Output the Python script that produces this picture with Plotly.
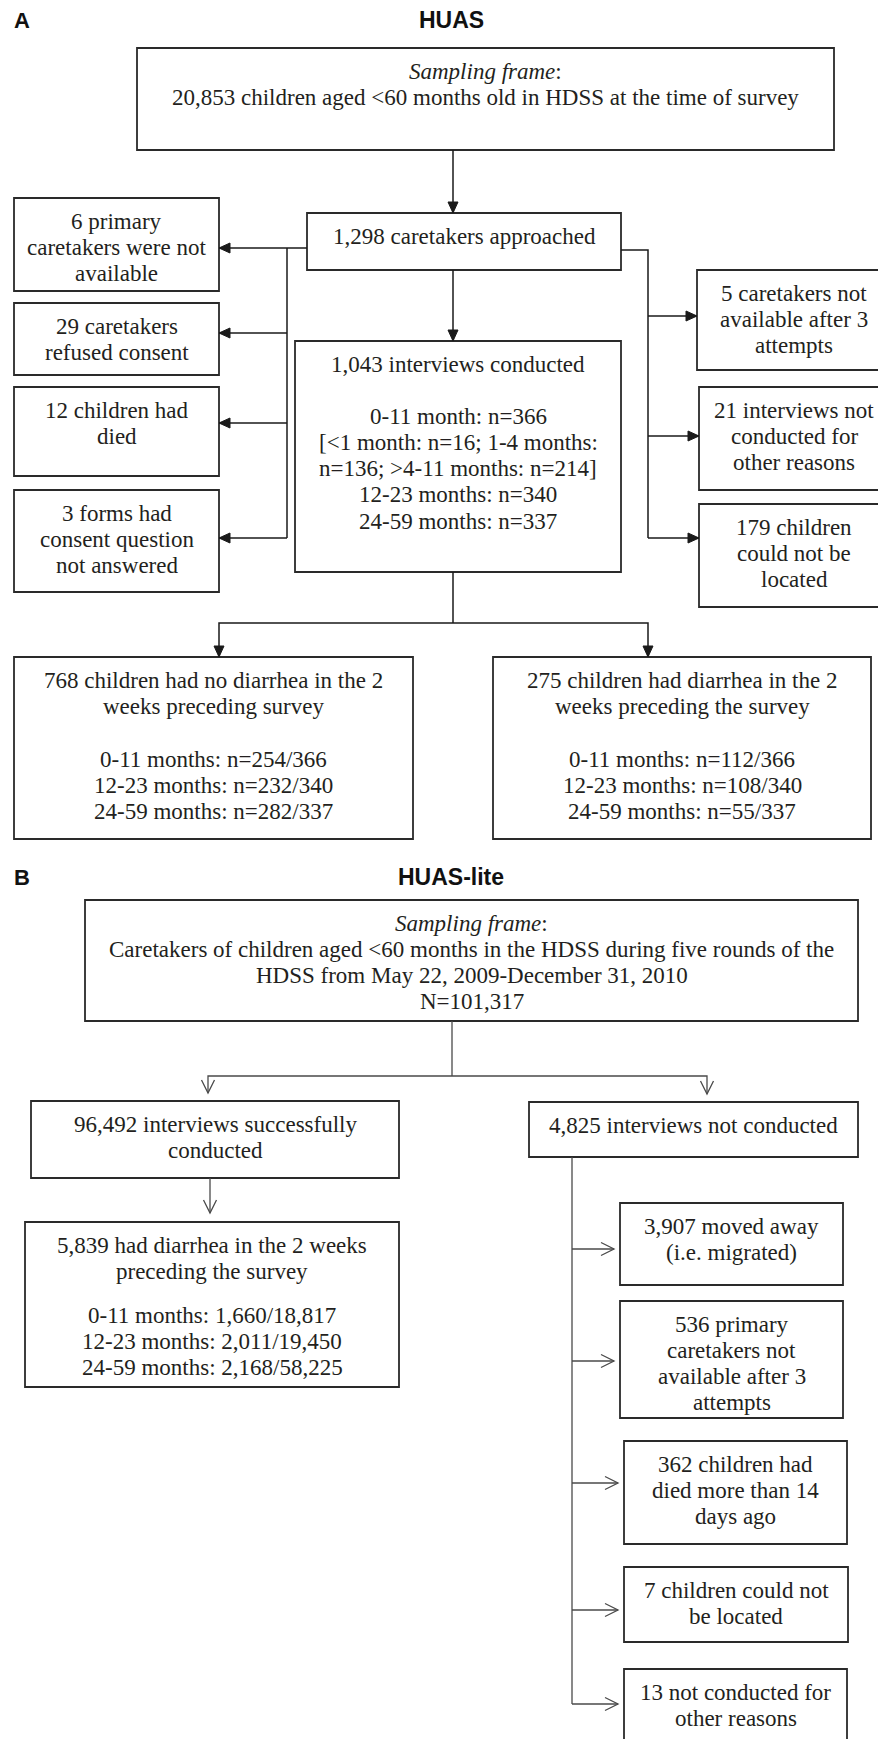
import plotly.graph_objects as go

W, H = 878, 1739

# ------------------------------------------------------------------ data
panel_labels = ["A", "B"]
panel_titles = ["HUAS", "HUAS-lite"]

huas_frame_n = 20853
huas_approached = 1298
huas_conducted = 1043
huas_left_n = [6, 29, 12, 3]
huas_right_n = [5, 21, 179]
huas_age_groups = ["0-11 months", "12-23 months", "24-59 months"]
huas_interview_n = [366, 340, 337]
huas_infant_sub = [16, 136, 214]          # <1, 1-4, >4-11 months
huas_no_diarrhea_n = [254, 232, 282]
huas_diarrhea_n = [112, 108, 55]

lite_frame_n = 101317
lite_conducted = 96492
lite_not_conducted = 4825
lite_diarrhea_total = 5839
lite_age_groups = ["0-11 months", "12-23 months", "24-59 months"]
lite_diarrhea_n = [1660, 2011, 2168]
lite_total_n = [18817, 19450, 58225]
lite_reason_n = [3907, 536, 362, 7, 13]

# ------------------------------------------------------------------ texts
T = {}
T["a_frame"] = [["<i>Sampling frame</i>:",
                 f"{huas_frame_n:,} children aged &lt;60 months old in HDSS at the time of survey"]]
T["a_appr"] = [[f"{huas_approached:,} caretakers approached"]]
T["a_cond"] = [[f"{huas_conducted:,} interviews conducted"],
               [f"0-11 month: n={huas_interview_n[0]}",
                f"[&lt;1 month: n={huas_infant_sub[0]}; 1-4 months:",
                f"n={huas_infant_sub[1]}; &gt;4-11 months: n={huas_infant_sub[2]}]",
                f"{huas_age_groups[1]}: n={huas_interview_n[1]}",
                f"{huas_age_groups[2]}: n={huas_interview_n[2]}"]]
T["a_l1"] = [[f"{huas_left_n[0]} primary", "caretakers were not", "available"]]
T["a_l2"] = [[f"{huas_left_n[1]} caretakers", "refused consent"]]
T["a_l3"] = [[f"{huas_left_n[2]} children had", "died"]]
T["a_l4"] = [[f"{huas_left_n[3]} forms had", "consent question", "not answered"]]
T["a_r1"] = [[f"{huas_right_n[0]} caretakers not", "available after 3", "attempts"]]
T["a_r2"] = [[f"{huas_right_n[1]} interviews not", "conducted for", "other reasons"]]
T["a_r3"] = [[f"{huas_right_n[2]} children", "could not be", "located"]]
T["a_nod"] = [[f"{sum(huas_no_diarrhea_n)} children had no diarrhea in the 2",
               "weeks preceding survey"],
              [f"{g}: n={a}/{b}" for g, a, b in zip(huas_age_groups, huas_no_diarrhea_n, huas_interview_n)]]
T["a_dia"] = [[f"{sum(huas_diarrhea_n)} children had diarrhea in the 2",
               "weeks preceding the survey"],
              [f"{g}: n={a}/{b}" for g, a, b in zip(huas_age_groups, huas_diarrhea_n, huas_interview_n)]]
T["b_frame"] = [["<i>Sampling frame</i>:",
                 "Caretakers of children aged &lt;60 months in the HDSS during five rounds of the",
                 "HDSS from May 22, 2009-December 31, 2010",
                 f"N={lite_frame_n:,}"]]
T["b_succ"] = [[f"{lite_conducted:,} interviews successfully", "conducted"]]
T["b_notc"] = [[f"{lite_not_conducted:,} interviews not conducted"]]
T["b_dia"] = [[f"{lite_diarrhea_total:,} had diarrhea in the 2 weeks", "preceding the survey"],
              [f"{g}: {a:,}/{b:,}" for g, a, b in zip(lite_age_groups, lite_diarrhea_n, lite_total_n)]]
T["b_r1"] = [[f"{lite_reason_n[0]:,} moved away", "(i.e. migrated)"]]
T["b_r2"] = [[f"{lite_reason_n[1]} primary", "caretakers not", "available after 3", "attempts"]]
T["b_r3"] = [[f"{lite_reason_n[2]} children had", "died more than 14", "days ago"]]
T["b_r4"] = [[f"{lite_reason_n[3]} children could not", "be located"]]
T["b_r5"] = [[f"{lite_reason_n[4]} not conducted for", "other reasons"]]

# ------------------------------------------------------------------ layout (pixel positions)
BOX = {
    "a_frame": (137, 48, 834, 150),
    "a_appr": (307, 213, 621, 270),
    "a_cond": (295, 341, 621, 572),
    "a_l1": (14, 198, 219, 291),
    "a_l2": (14, 303, 219, 375),
    "a_l3": (14, 387, 219, 476),
    "a_l4": (14, 490, 219, 592),
    "a_r1": (697, 270, 892, 370),
    "a_r2": (699, 387, 892, 490),
    "a_r3": (699, 504, 892, 607),
    "a_nod": (14, 657, 413, 839),
    "a_dia": (493, 657, 871, 839),
    "b_frame": (85, 900, 858, 1021),
    "b_succ": (31, 1101, 399, 1178),
    "b_notc": (529, 1102, 858, 1157),
    "b_dia": (25, 1222, 399, 1387),
    "b_r1": (620, 1203, 843, 1285),
    "b_r2": (620, 1301, 843, 1418),
    "b_r3": (624, 1441, 847, 1544),
    "b_r4": (624, 1567, 848, 1642),
    "b_r5": (624, 1669, 847, 1760),
}
GROUP_OFFSET = {"a_cond": [0, 52], "a_nod": [0, 79], "a_dia": [0, 79], "b_dia": [0, 70]}
TEXT_CX = {"a_r1": 794, "a_r2": 794, "a_r3": 794}
FIRST_LINE = 23  # distance from box top to first text line centre
LINE_H = 26.3
FS = 23

SERIF = "Liberation Serif, Times New Roman, serif"
SANS = "Liberation Sans, Arial, sans-serif"
TXT = "#231f20"

shapes = []
annotations = []

for key, (x0, y0, x1, y1) in BOX.items():
    shapes.append(dict(type="rect", xref="x", yref="y", x0=x0, y0=y0, x1=x1, y1=y1,
                       line=dict(color="#2a2a2a", width=1.8), fillcolor="rgba(0,0,0,0)"))
    cx = TEXT_CX.get(key, (x0 + x1) / 2)
    offs = GROUP_OFFSET.get(key, [0])
    for grp, off in zip(T[key], offs):
        for i, line in enumerate(grp):
            yy = y0 + FIRST_LINE + off + i * LINE_H
            annotations.append(dict(x=cx, y=yy, xref="x", yref="y", text=line,
                                    showarrow=False, xanchor="center", yanchor="middle",
                                    align="center", font=dict(family=SERIF, size=FS, color=TXT)))

# panel labels & titles
for lab, ttl, yy in zip(panel_labels, panel_titles, [20, 877]):
    annotations.append(dict(x=22, y=yy, xref="x", yref="y", text=f"<b>{lab}</b>", showarrow=False,
                            xanchor="center", yanchor="middle", font=dict(family=SANS, size=22, color="#111")))
    annotations.append(dict(x=451, y=yy, xref="x", yref="y", text=f"<b>{ttl}</b>", showarrow=False,
                            xanchor="center", yanchor="middle", font=dict(family=SANS, size=23, color="#111")))


def seg(pts, color, width):
    path = "M " + " L ".join(f"{x},{y}" for x, y in pts)
    shapes.append(dict(type="path", xref="x", yref="y", path=path,
                       line=dict(color=color, width=width), fillcolor="rgba(0,0,0,0)"))


def head_filled(x, y, dx, dy, color, L=11, hw=5):
    # tip at (x,y), direction (dx,dy) unit
    bx, by = x - dx * L, y - dy * L
    px, py = -dy, dx
    path = f"M {x},{y} L {bx + px * hw},{by + py * hw} L {bx - px * hw},{by - py * hw} Z"
    shapes.append(dict(type="path", xref="x", yref="y", path=path,
                       line=dict(color=color, width=1), fillcolor=color))


def head_open(x, y, dx, dy, color, width, L=13, hw=6.5):
    bx, by = x - dx * L, y - dy * L
    px, py = -dy, dx
    seg([(bx + px * hw, by + py * hw), (x, y), (bx - px * hw, by - py * hw)], color, width)


CA = "#1a1a1a"
WA = 1.5
CB = "#4a4a4a"
WB = 1.3

# ---------------- panel A connectors
fr, ap, co = BOX["a_frame"], BOX["a_appr"], BOX["a_cond"]
cxA = 453
seg([(cxA, fr[3]), (cxA, ap[1])], CA, WA); head_filled(cxA, ap[1], 0, 1, CA)
seg([(cxA, ap[3]), (cxA, co[1])], CA, WA); head_filled(cxA, co[1], 0, 1, CA)

yL = 248
xL = 287
seg([(ap[0], yL), (BOX["a_l1"][2], yL)], CA, WA); head_filled(BOX["a_l1"][2], yL, -1, 0, CA)
left_arrow_y = [333, 423, 538]
seg([(xL, yL), (xL, left_arrow_y[-1])], CA, WA)
for k, yy in zip(["a_l2", "a_l3", "a_l4"], left_arrow_y):
    seg([(xL, yy), (BOX[k][2], yy)], CA, WA); head_filled(BOX[k][2], yy, -1, 0, CA)

yR = 250
xR = 648
right_arrow_y = [316, 436, 538]
seg([(ap[2], yR), (xR, yR), (xR, right_arrow_y[-1])], CA, WA)
for k, yy in zip(["a_r1", "a_r2", "a_r3"], right_arrow_y):
    seg([(xR, yy), (BOX[k][0], yy)], CA, WA); head_filled(BOX[k][0], yy, 1, 0, CA)

ySplit = 623
xs1, xs2 = 219, 648
seg([(cxA, co[3]), (cxA, ySplit)], CA, WA)
seg([(xs1, BOX["a_nod"][1]), (xs1, ySplit), (xs2, ySplit), (xs2, BOX["a_dia"][1])], CA, WA)
head_filled(xs1, BOX["a_nod"][1], 0, 1, CA)
head_filled(xs2, BOX["a_dia"][1], 0, 1, CA)

# ---------------- panel B connectors
bf = BOX["b_frame"]
cxB = 452
ySplitB = 1076
gapB = 8
xb1, xb2 = 208, 707
seg([(cxB, bf[3]), (cxB, ySplitB)], CB, WB)
seg([(xb1, BOX["b_succ"][1] - gapB), (xb1, ySplitB), (xb2, ySplitB), (xb2, BOX["b_notc"][1] - gapB)], CB, WB)
head_open(xb1, BOX["b_succ"][1] - gapB, 0, 1, CB, WB)
head_open(xb2, BOX["b_notc"][1] - gapB, 0, 1, CB, WB)

xs = 210
seg([(xs, BOX["b_succ"][3]), (xs, BOX["b_dia"][1] - 9)], CB, WB)
head_open(xs, BOX["b_dia"][1] - 9, 0, 1, CB, WB)

xv = 572
reason_arrow_y = [1249, 1361, 1483, 1610, 1704]
seg([(xv, BOX["b_notc"][3]), (xv, reason_arrow_y[-1])], CB, WB)
for k, yy in zip(["b_r1", "b_r2", "b_r3", "b_r4", "b_r5"], reason_arrow_y):
    tip = BOX[k][0] - 6
    seg([(xv, yy), (tip, yy)], CB, WB)
    head_open(tip, yy, 1, 0, CB, WB)

fig = go.Figure()
fig.update_layout(
    width=W, height=H, margin=dict(l=0, r=0, t=0, b=0),
    paper_bgcolor="white", plot_bgcolor="white",
    xaxis=dict(range=[0, W], visible=False, fixedrange=True),
    yaxis=dict(range=[H, 0], visible=False, fixedrange=True),
    shapes=shapes, annotations=annotations, showlegend=False,
)
fig.write_html("out.html", config={"displayModeBar": False},
               post_script="document.body.style.margin='0';document.body.style.overflow='hidden';")
